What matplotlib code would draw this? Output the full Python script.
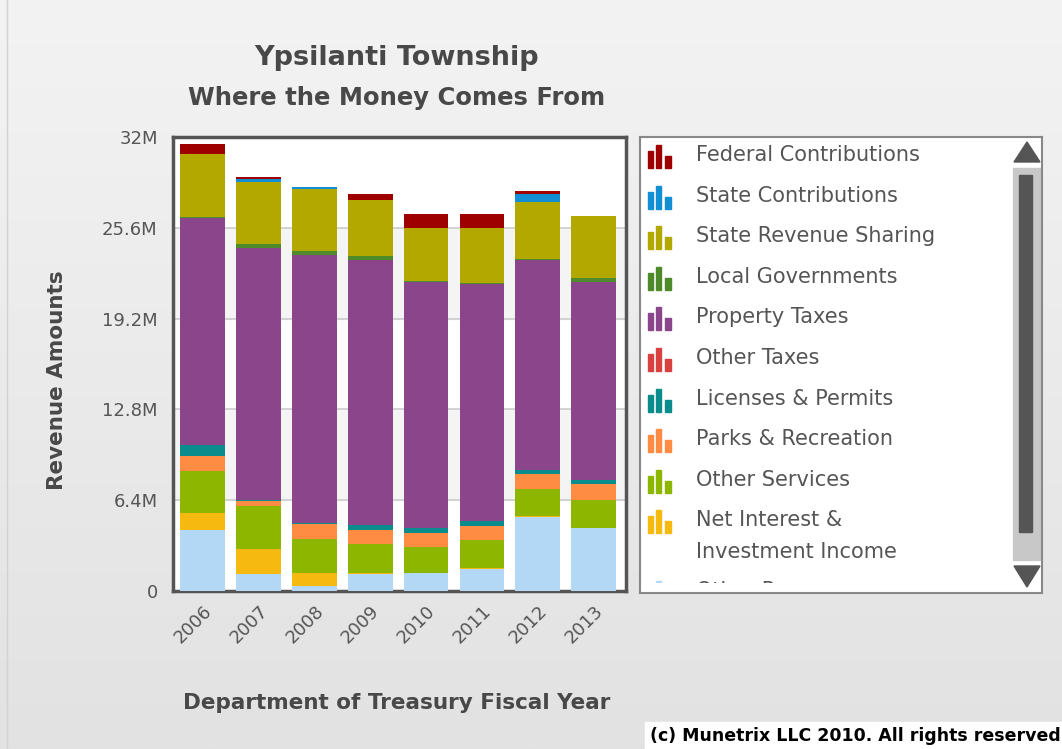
import numpy as np
import matplotlib.pyplot as plt
from matplotlib.colors import LinearSegmentedColormap
from matplotlib.patches import Rectangle, Polygon

# Fiscal years
years = ['2006', '2007', '2008', '2009', '2010', '2011', '2012', '2013']

# Revenue by source, millions of dollars
other_revenue = [4.29, 1.18, 0.35, 1.22, 1.25, 1.58, 5.25, 4.43]
net_interest = [1.18, 1.77, 0.94, 0.03, 0.02, 0.02, 0.02, 0.02]
other_services = [2.97, 3.06, 2.36, 2.07, 1.81, 2.00, 1.89, 1.98]
parks_rec = [1.11, 0.35, 1.06, 1.01, 1.01, 0.97, 1.11, 1.08]
licenses = [0.75, 0.05, 0.05, 0.33, 0.33, 0.35, 0.28, 0.28]
other_taxes = [0.0, 0.0, 0.0, 0.0, 0.0, 0.0, 0.0, 0.0]
property_taxes = [16.02, 17.79, 18.89, 18.68, 17.39, 16.73, 14.79, 14.02]
local_gov = [0.05, 0.28, 0.30, 0.30, 0.05, 0.05, 0.05, 0.24]
state_rev_sharing = [4.43, 4.36, 4.40, 3.89, 3.75, 3.91, 4.05, 4.36]
state_contrib = [0.0, 0.19, 0.12, 0.0, 0.0, 0.0, 0.52, 0.0]
federal = [0.71, 0.12, 0.0, 0.45, 0.94, 0.94, 0.24, 0.0]

# bottom to top
series = [
    ('Other Revenue', other_revenue, '#b2d8f5'),
    ('Net Interest &\nInvestment Income', net_interest, '#f5b90f'),
    ('Other Services', other_services, '#8db600'),
    ('Parks & Recreation', parks_rec, '#ff8c42'),
    ('Licenses & Permits', licenses, '#0a8c8c'),
    ('Other Taxes', other_taxes, '#d94040'),
    ('Property Taxes', property_taxes, '#8b468b'),
    ('Local Governments', local_gov, '#4f8a2a'),
    ('State Revenue Sharing', state_rev_sharing, '#b3a800'),
    ('State Contributions', state_contrib, '#118ed4'),
    ('Federal Contributions', federal, '#9e0000'),
]

W, H = 1062, 749
fig = plt.figure(figsize=(W / 100, H / 100), dpi=100)

# background gradient
bg = fig.add_axes([0, 0, 1, 1], zorder=-10)
grad = np.linspace(0, 1, 256).reshape(-1, 1)
bg.imshow(grad, aspect='auto', extent=[0, W, H, 0],
          cmap=LinearSegmentedColormap.from_list('bg', ['#f3f3f3', '#e2e2e2']))
bg.set_xlim(0, W)
bg.set_ylim(H, 0)
bg.axvline(7, color='#d2d2d2', lw=1)
bg.set_axis_off()


def fx(px):
    return px / W


def fy(py):
    return 1 - py / H


gray = '#555555'
dark = '#484848'

# main chart
ax = fig.add_axes([fx(173), fy(591), fx(626) - fx(173), fy(137) - fy(591)])
x = np.arange(len(years))
bottom = np.zeros(len(years))
for name, vals, col in series:
    v = np.array(vals) * 1e6
    ax.bar(x, v, width=0.8, bottom=bottom, color=col, edgecolor='none', zorder=3)
    bottom += v

ymax = 32e6
ticks = np.arange(0, ymax + 1, 6.4e6)
ax.set_ylim(0, ymax)
ax.set_xlim(-0.53, len(years) - 1 + 0.58)
for i in range(len(ticks) - 1):
    if i % 2 == 1:
        ax.axhspan(ticks[i], ticks[i + 1], color='#f4f4f4', zorder=0)
for t in ticks[1:-1]:
    ax.axhline(t, color='#cccccc', lw=1.2, zorder=1)
ax.set_facecolor('white')
ax.set_yticks(ticks)
ax.set_yticklabels(['0', '6.4M', '12.8M', '19.2M', '25.6M', '32M'])
ax.set_xticks(x)
ax.set_xticklabels(years, rotation=45, ha='right', va='top', rotation_mode='anchor')
ax.tick_params(length=0, labelsize=13, colors=gray)
ax.tick_params(axis='x', pad=8)
ax.tick_params(axis='y', pad=11)
for s in ax.spines.values():
    s.set_color('#555555')
    s.set_linewidth(2.5)

fig.text(fx(397), fy(58), 'Ypsilanti Township', ha='center', va='center',
         fontsize=19.5, fontweight='bold', color=dark)
fig.text(fx(397), fy(98), 'Where the Money Comes From', ha='center', va='center',
         fontsize=17.5, fontweight='bold', color=dark)
fig.text(fx(57), fy(380), 'Revenue Amounts', ha='center', va='center', rotation=90,
         fontsize=15.5, fontweight='bold', color=dark)
fig.text(fx(397), fy(703), 'Department of Treasury Fiscal Year', ha='center', va='center',
         fontsize=15.5, fontweight='bold', color=dark)

# legend panel, in pixel coordinates
lg = fig.add_axes([fx(640), fy(593), fx(1042) - fx(640), fy(137) - fy(593)])
lg.set_xlim(640, 1042)
lg.set_ylim(593, 137)
lg.set_xticks([])
lg.set_yticks([])
for s in lg.spines.values():
    s.set_color('#888888')
    s.set_linewidth(1.5)

clip = Rectangle((640, 137), 402, 446, transform=lg.transData, visible=False)
lg.add_patch(clip)

row_y = 155
for name, vals, col in series[::-1]:
    base = row_y + 13
    for bx, bw, bh in [(648, 5, 17), (656, 5, 23), (665, 6, 12)]:
        r = Rectangle((bx, base - bh), bw, bh, color=col)
        lg.add_patch(r)
        r.set_clip_path(clip)
    lines = name.split('\n')
    for k, line in enumerate(lines):
        t = lg.text(696, row_y + 32 * k, line, ha='left', va='center',
                    fontsize=15, color=gray, clip_on=True)
        t.set_clip_path(clip)
    row_y += 40.6 + 32 * (len(lines) - 1)
    if len(lines) > 1:
        row_y -= 2

# scroll bar
lg.add_patch(Rectangle((1013, 168), 27, 392, color='#c8c8c8'))
lg.add_patch(Rectangle((1019, 175), 13, 357, color='#555555'))
lg.add_patch(Polygon([[1014, 162], [1040, 162], [1027, 142]], color='#555555'))
lg.add_patch(Polygon([[1014, 566], [1040, 566], [1027, 587]], color='#555555'))

# copyright strip
bg.add_patch(Rectangle((645, 722), W - 645, H - 722, color='white', zorder=5))
fig.text(fx(650), fy(736), '(c) Munetrix LLC 2010. All rights reserved', ha='left', va='center',
         fontsize=12.5, fontweight='bold', color='black',
         family=['Liberation Sans Narrow', 'DejaVu Sans'])

fig.savefig('out.png', dpi=100)
